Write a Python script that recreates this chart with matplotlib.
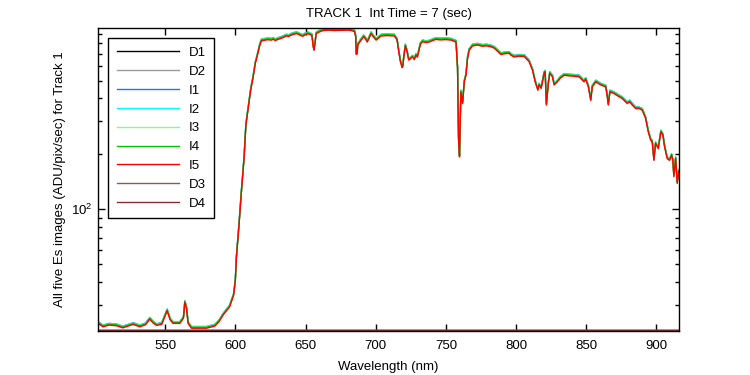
import matplotlib
matplotlib.use("Agg")
import matplotlib.pyplot as plt
from matplotlib.ticker import LogLocator, NullFormatter, FixedLocator

plt.rcParams['font.family'] = ['Liberation Sans', 'DejaVu Sans']
plt.rcParams['font.size'] = 9.5

# Base spectrum (I5)
wavelength = [502.3, 505.6, 510.0, 515.4, 519.8, 523.5, 527.2, 531.9, 536.0, 539.0, 541.5, 543.8,
              547.5, 551.4, 553.5, 555.6, 560.4, 563.0, 564.0, 565.2, 566.3, 568.7, 579.4, 585.3,
              588.5, 591.2, 595.9, 598.8, 600.0, 600.7, 602.6, 604.3, 606.2, 607.5, 609.5, 610.9,
              612.5, 614.2, 615.6, 617.3, 618.5, 621.0, 623.0, 625.6, 627.0, 628.5, 630.3, 632.0,
              634.0, 636.3, 638.0, 640.0, 643.4, 645.0, 646.5, 648.1, 649.5, 651.6, 653.0, 654.5,
              655.5, 656.0, 656.8, 657.6, 660.0, 662.3, 666.0, 670.6, 675.0, 680.0, 682.5, 684.9,
              685.8, 686.1, 686.8, 687.2, 689.6, 691.5, 692.8, 693.9, 695.0, 696.7, 698.0, 700.3,
              702.0, 703.8, 708.0, 713.3, 715.2, 716.4, 717.6, 718.8, 719.4, 719.9, 721.1, 722.3,
              723.5, 725.0, 726.3, 727.5, 728.7, 729.7, 730.6, 731.8, 733.4, 735.5, 738.2, 740.5,
              742.9, 746.0, 750.0, 753.6, 757.2, 758.3, 759.0, 759.7, 760.2, 760.7, 761.9, 763.1,
              764.3, 765.4, 766.6, 769.0, 772.5, 776.0, 779.0, 782.1, 784.5, 786.8, 789.2, 792.0,
              795.1, 796.3, 798.6, 802.0, 805.8, 809.3, 811.7, 813.6, 815.5, 816.4, 817.9, 820.0,
              820.7, 821.2, 821.6, 822.3, 823.0, 824.0, 825.9, 827.1, 829.4, 831.5, 834.2, 838.0,
              841.0, 844.9, 848.4, 849.6, 851.5, 853.2, 854.3, 856.8, 860.3, 863.9, 865.0, 865.7,
              866.9, 869.8, 873.0, 875.7, 879.2, 880.9, 882.8, 885.2, 887.6, 889.9, 892.3, 894.2,
              895.9, 897.0, 898.2, 899.4, 901.3, 902.3, 903.2, 904.6, 905.8, 907.7, 909.4, 910.8,
              911.7, 912.4, 913.7, 914.8, 915.9]
signal = [23.9, 22.9, 23.4, 23.2, 22.6, 23.1, 23.6, 22.9, 23.5, 25.2, 24.0, 23.3,
          23.6, 28.0, 25.0, 23.9, 23.9, 25.5, 31.1, 28.8, 23.9, 22.5, 22.5, 23.1,
          24.5, 26.5, 29.4, 34.1, 41.1, 54.0, 82.0, 124.0, 189.0, 286.0, 370.0, 443.0,
          513.0, 619.0, 681.0, 772.0, 822.0, 828.0, 834.0, 830.0, 838.0, 825.0, 837.0, 845.0,
          856.0, 874.0, 868.0, 885.0, 900.0, 892.0, 878.0, 871.0, 885.0, 900.0, 890.0, 880.0,
          760.0, 731.0, 800.0, 900.0, 920.0, 935.0, 940.0, 936.0, 938.0, 940.0, 936.0, 922.0,
          860.0, 693.0, 700.0, 780.0, 830.0, 866.0, 840.0, 810.0, 840.0, 900.0, 870.0, 830.0,
          850.0, 874.0, 878.0, 874.0, 830.0, 718.0, 633.0, 588.0, 600.0, 659.0, 772.0, 718.0,
          646.0, 660.0, 671.0, 650.0, 687.0, 670.0, 718.0, 786.0, 814.0, 805.0, 810.0, 825.0,
          837.0, 832.0, 835.0, 830.0, 810.0, 582.0, 242.0, 192.0, 300.0, 434.0, 375.0, 492.0,
          534.0, 659.0, 731.0, 772.0, 780.0, 768.0, 772.0, 763.0, 750.0, 722.0, 693.0, 700.0,
          703.0, 687.0, 671.0, 678.0, 676.0, 633.0, 569.0, 492.0, 443.0, 473.0, 453.0, 547.0,
          557.0, 450.0, 368.0, 420.0, 482.0, 547.0, 524.0, 473.0, 492.0, 515.0, 534.0, 530.0,
          528.0, 524.0, 492.0, 508.0, 462.0, 390.0, 462.0, 492.0, 473.0, 462.0, 408.0, 368.0,
          434.0, 425.0, 410.0, 399.0, 375.0, 383.0, 368.0, 352.0, 352.0, 345.0, 311.0, 263.0,
          237.0, 232.0, 184.0, 227.0, 213.0, 237.0, 263.0, 252.0, 218.0, 188.0, 184.0, 196.0,
          184.0, 150.0, 188.0, 138.0, 160.0]

# Per-series gain of the five image series relative to I5
image_names = ['I1', 'I2', 'I3', 'I4', 'I5']
image_gains = [1.022, 1.018, 1.015, 1.012, 1.0]

# Dark series: flat near the bottom of the axis
dark_names = ['D1', 'D2', 'D3', 'D4']
dark_wavelength = [502.3, 915.9]
dark_values = [22.1, 22.1]

legend_order = ['D1', 'D2', 'I1', 'I2', 'I3', 'I4', 'I5', 'D3', 'D4']
colors = {'D1': '#000000', 'D2': '#999999', 'I1': '#1e78e6', 'I2': '#00ffff',
          'I3': '#80ff80', 'I4': '#00c800', 'I5': '#ff0000', 'D3': '#8a5a5a', 'D4': '#803030'}

fig = plt.figure(figsize=(7.5, 3.75), dpi=100)
ax = fig.add_axes([0.131, 0.118, 0.774, 0.8065])

for name in legend_order:
    if name in dark_names:
        ax.plot(dark_wavelength, dark_values, color=colors[name], lw=1.0, label=name)
    else:
        g = image_gains[image_names.index(name)]
        ax.plot(wavelength, [v * g for v in signal], color=colors[name], lw=1.0, label=name)

ax.set_yscale('log')
ax.set_xlim(502.3, 915.9)
ax.set_ylim(21.8, 962)
ax.set_xticks([550, 600, 650, 700, 750, 800, 850, 900])
ax.yaxis.set_major_locator(FixedLocator([100]))
ax.yaxis.set_minor_locator(LogLocator(base=10, subs=range(2, 10)))
ax.yaxis.set_minor_formatter(NullFormatter())
ax.tick_params(which='both', direction='in', top=True, right=True, labelsize=9.5, width=1)
ax.tick_params(which='major', length=5)
ax.tick_params(which='minor', length=3)
ax.tick_params(axis='x', pad=6.5)
ax.tick_params(axis='y', pad=4)
for s in ax.spines.values():
    s.set_linewidth(1.0)

ax.set_title('TRACK 1  Int Time = 7 (sec)', fontsize=9.5, pad=8.5)
ax.set_xlabel('Wavelength (nm)', fontsize=9.5, labelpad=6.5)
ax.set_ylabel('All five Es images (ADU/pix/sec) for Track 1', fontsize=9.5, labelpad=4)

leg = ax.legend(loc='upper left', fontsize=9.5, handlelength=4.7, handletextpad=0.75,
                labelspacing=0.5, borderaxespad=0.75, borderpad=0.65, fancybox=False,
                framealpha=1, edgecolor='black')
leg.get_frame().set_linewidth(1.0)

fig.savefig('out.png', dpi=100)
